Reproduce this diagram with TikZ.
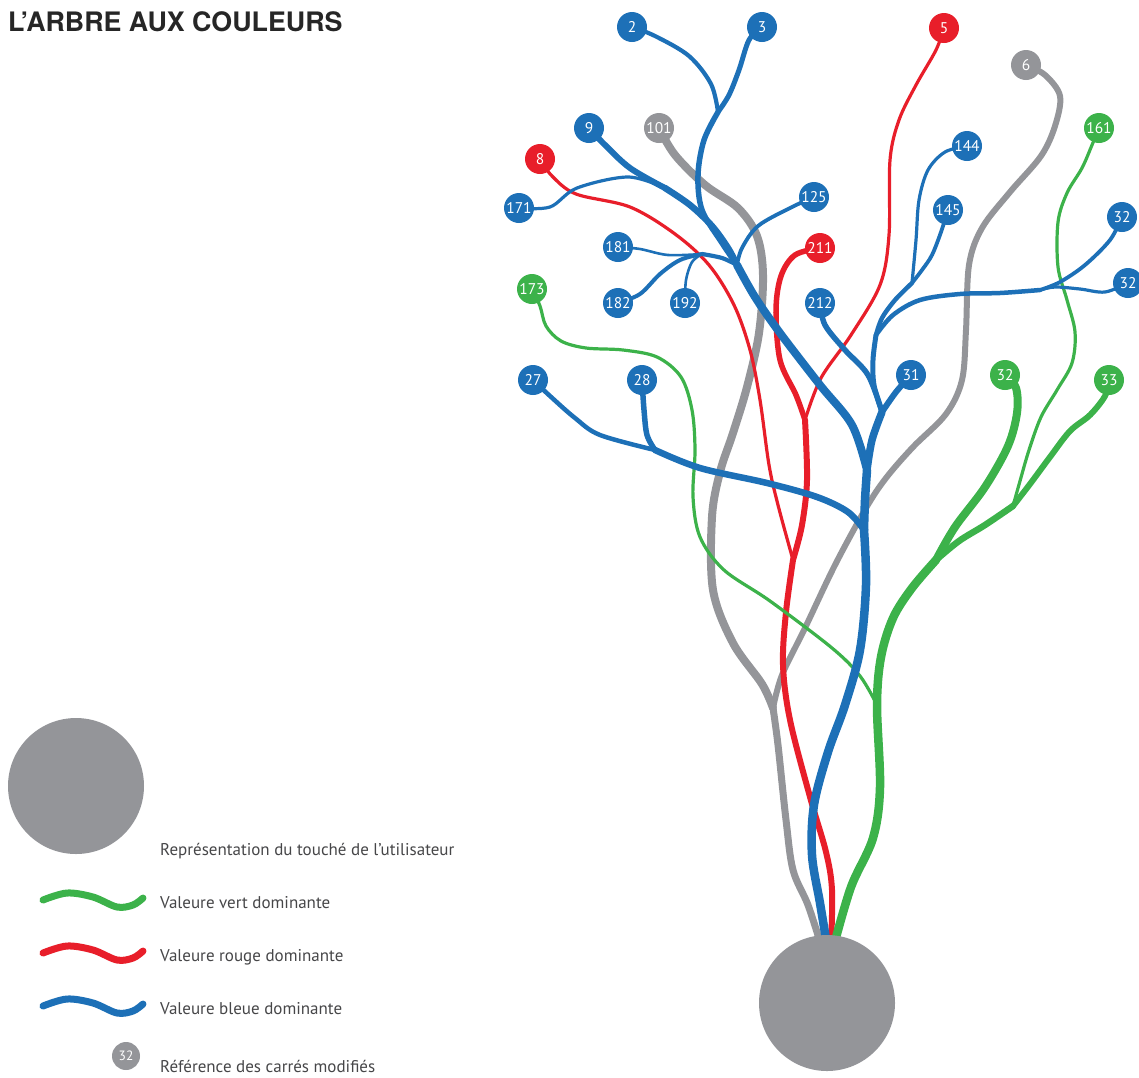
\documentclass[tikz,border=0pt]{standalone}
\usepackage{fontspec}
\setmainfont{PT Sans}
\newfontfamily\titlefont{TeX Gyre Heros}
\usetikzlibrary{backgrounds}
\definecolor{cblue}{RGB}{29,112,183}
\definecolor{cred}{RGB}{232,30,42}
\definecolor{cgreen}{RGB}{60,178,74}
\definecolor{cgray}{RGB}{148,149,153}
\definecolor{ctext}{RGB}{70,70,72}
\begin{document}
\begin{tikzpicture}[x=1pt,y=-1pt,
  leaf/.style={circle, minimum size=30pt, inner sep=0pt, text=white, font=\fontsize{15.5}{16}\selectfont},
  bl/.style={leaf, fill=cblue}, rd/.style={leaf, fill=cred},
  gr/.style={leaf, fill=cgreen}, gy/.style={leaf, fill=cgray},
  strand/.style={line cap=round, line join=round},
  sb/.style={strand, draw=cblue, line width=#1},
  sr/.style={strand, draw=cred, line width=#1},
  sg/.style={strand, draw=cgreen, line width=#1},
  sy/.style={strand, draw=cgray, line width=#1},
  legtext/.style={anchor=base west, inner sep=0pt, text=ctext, font=\fontsize{17}{19}\selectfont},
  sm/.style={smooth, tension=0.55}]
\useasboundingbox (0,0) rectangle (1139,1077);

% title
\node[anchor=base west, inner sep=0pt, text=black!85, font=\titlefont\bfseries\fontsize{26.8}{27}\selectfont] (title) at (8,31) {L’ARBRE AUX COULEURS};

% big touch circle
\node[circle, fill=cgray, minimum size=136pt, inner sep=0pt] (touch) at (827,1003) {};

% leaf nodes
\node[bl] (n2) at (632,27) {2};
\node[bl] (n3) at (762,27) {3};
\node[rd] (n5) at (944,28) {5};
\node[gy] (n6) at (1026,65) {6};
\node[gr] (n161) at (1099,128) {161};
\node[bl] (n9) at (589,128) {9};
\node[gy] (n101) at (659,128) {101};
\node[rd] (n8) at (540,159) {8};
\node[bl] (n171) at (519,208) {171};
\node[bl] (n125) at (814,197) {125};
\node[bl] (n144) at (967,146) {144};
\node[bl] (n145) at (948,210) {145};
\node[bl] (n32a) at (1122,217) {32};
\node[bl] (n32b) at (1128,283) {32};
\node[bl] (n181) at (618,247) {181};
\node[rd] (n211) at (820,248) {211};
\node[bl] (n182) at (618,303) {182};
\node[bl] (n192) at (685,303) {192};
\node[gr] (n173) at (532,289) {173};
\node[bl] (n212) at (820,303) {212};
\node[bl] (n27) at (533,380) {27};
\node[bl] (n28) at (642,380) {28};
\node[bl] (n31) at (911,375) {31};
\node[gr] (n32g) at (1005,375) {32};
\node[gr] (n33) at (1109,380) {33};

% junctions
\coordinate (mB23) at (718,112);
\coordinate (m171) at (665,188);
\coordinate (m18) at (702,254);
\coordinate (mBL) at (737,265);
\coordinate (m1445) at (912,283);
\coordinate (m3232) at (1040,290);
\coordinate (mRup) at (876,335);
\coordinate (mBR) at (882,412);
\coordinate (mT1) at (867,470);
\coordinate (m2728) at (655,450);
\coordinate (mT2) at (864,530);
\coordinate (mR5) at (805,420);
\coordinate (mR8) at (793,560);
\coordinate (mG) at (773,708);
\coordinate (m161) at (1013,506);
\coordinate (m3233) at (936,560);
\coordinate (m173) at (877,705);
\coordinate (bGray) at (821,945);
\coordinate (bBlue) at (827,945);
\coordinate (bRed) at (831,945);
\coordinate (bGreen) at (834,945);

\begin{pgfonlayer}{background}
% gray
\draw[sy=8] plot[sm] coordinates {(n101.center) (675,155) (705,185) (738,208) (757,236) (763,275) (759,333) (747,387) (733,433) (720,472) (712,517) (713,590) (733,643) (762,684) (mG)};
\draw[sy=6] plot[sm] coordinates {(n6.center) (1045,75) (1060,96) (1055,126) (1041,156) (1010,192) (982,228) (969,265) (966,330) (962,380) (946,414) (913,447) (886,478) (866,508) (835,565) (805,628) (782,675) (mG)};
\draw[sy=7] plot[sm] coordinates {(mG) (778,745) (786,820) (793,870) (808,905) (bGray)};
% red
\draw[sr=3.2] plot[sm] coordinates {(n5.center) (936,50) (916,85) (899,120) (890,160) (889,235) (880,285) (851,335) (821,378) (mR5)};
\draw[sr=5.5] plot[sm] coordinates {(n211.center) (795,255) (781,276) (776,310) (780,360) (796,395) (mR5)};
\draw[sr=6] plot[sm] coordinates {(mR5) (807,480) (802,525) (mR8)};
\draw[sr=3.2] plot[sm] coordinates {(n8.center) (552,176) (576,194) (630,207) (675,234) (709,265) (734,305) (750,350) (760,400) (769,465) (778,505) (mR8)};
\draw[sr=6] plot[sm] coordinates {(mR8) (786,612) (783,665) (790,720) (810,797) (826,852) (832,890) (bRed)};
% green
\draw[sg=3.2] plot[sm] coordinates {(n173.center) (540,306) (546,326) (561,341) (586,348) (623,350) (657,357) (681,377) (692,410) (695,450) (693,497) (700,537) (724,570) (770,601) (832,648) (860,676) (m173)};
\draw[sg=3.2] plot[sm] coordinates {(n161.center) (1092,145) (1082,168) (1067,193) (1058,222) (1058,267) (1067,300) (1075,332) (1072,363) (1057,390) (1041,417) (1029,450) (1020,481) (m161)};
\draw[sg=6] plot[sm] coordinates {(n33.center) (1105,396) (1090,415) (1070,431) (1050,457) (1030,484) (m161)};
\draw[sg=6.5] plot[sm] coordinates {(m161) (985,525) (959,541) (m3233)};
\draw[sg=8] plot[sm] coordinates {(n32g.center) (1016,388) (1017,413) (1008,446) (985,487) (955,527) (m3233)};
\draw[sg=8.5] plot[sm] coordinates {(m3233) (912,588) (893,618) (881,657) (m173) (880,787) (873,838) (851,887) (bGreen)};
% blue, left cluster
\draw[sb=4.2] plot[sm] coordinates {(n2.center) (655,36) (689,56) (711,84) (mB23)};
\draw[sb=5] plot[sm] coordinates {(n3.center) (749,40) (739,70) (729,95) (mB23)};
\draw[sb=5.5] plot[sm] coordinates {(mB23) (704,140) (698,175) (702,210) (722,243) (mBL)};
\draw[sb=6] plot[sm] coordinates {(n9.center) (604,144) (630,168) (m171)};
\draw[sb=3.2] plot[sm] coordinates {(n171.center) (550,207) (577,188) (628,177) (m171)};
\draw[sb=6.5] plot[sm] coordinates {(m171) (690,205) (712,226) (728,248) (mBL)};
\draw[sb=2.6] plot[sm] coordinates {(n181.center) (640,249) (668,255) (m18)};
\draw[sb=4] plot[sm] coordinates {(n182.center) (640,294) (660,274) (680,260) (m18)};
\draw[sb=2.6] plot[sm] coordinates {(n192.center) (686,280) (692,262) (m18)};
\draw[sb=4.2] plot[sm] coordinates {(m18) (722,258) (mBL)};
\draw[sb=3.8] plot[sm] coordinates {(n125.center) (790,208) (758,226) (742,248) (mBL)};
\draw[sb=8] plot[sm] coordinates {(mBL) (755,297) (780,333) (820,385) (852,425) (mT1)};
% blue, right cluster
\draw[sb=3.2] plot[sm] coordinates {(n144.center) (945,152) (928,170) (919,200) (916,240) (m1445)};
\draw[sb=3.8] plot[sm] coordinates {(n145.center) (941,232) (932,255) (922,270) (m1445)};
\draw[sb=4.5] plot[sm] coordinates {(m1445) (895,300) (882,318) (mRup)};
\draw[sb=3.8] plot[sm] coordinates {(n32a.center) (1110,240) (1085,265) (1060,282) (m3232)};
\draw[sb=3.2] plot[sm] coordinates {(n32b.center) (1105,292) (1080,289) (1055,287) (m3232)};
\draw[sb=4.5] plot[sm] coordinates {(m3232) (1000,293) (960,294) (920,300) (893,315) (mRup)};
\draw[sb=5] plot[sm] coordinates {(mRup) (873,360) (874,385) (mBR)};
\draw[sb=5.5] plot[sm] coordinates {(n212.center) (825,325) (845,350) (868,375) (mBR)};
\draw[sb=6] plot[sm] coordinates {(n31.center) (896,392) (mBR)};
\draw[sb=7.5] plot[sm] coordinates {(mBR) (872,440) (mT1)};
% blue, trunk
\draw[sb=8.5] plot[sm] coordinates {(mT1) (865,500) (mT2)};
\draw[sb=4.5] plot[sm] coordinates {(n27.center) (550,396) (575,418) (600,435) (m2728)};
\draw[sb=5.5] plot[sm] coordinates {(n28.center) (644,410) (647,435) (m2728)};
\draw[sb=6.5] plot[sm] coordinates {(m2728) (700,468) (767,483) (817,497) (848,512) (mT2)};
\draw[sb=8.5] plot[sm] coordinates {(mT2) (866,585) (860,650) (845,705) (828,752) (814,805) (812,855) (820,903) (bBlue)};
\end{pgfonlayer}

% legend
\node[circle, fill=cgray, minimum size=136pt, inner sep=0pt] (legtouch) at (76,786) {};
\node[legtext] (lt1) at (160,855) {Représentation du touché de l’utilisateur};
\coordinate (lgA) at (43,900);
\coordinate (lgB) at (143,898);
\draw[sg=7] plot[sm] coordinates {(lgA) (67,893) (93,897) (117,907) (133,905) (lgB)};
\node[legtext] (lt2) at (160,908) {Valeure vert dominante};
\coordinate (lrA) at (43,953);
\coordinate (lrB) at (143,951);
\draw[sr=7] plot[sm] coordinates {(lrA) (67,946) (93,950) (117,960) (133,958) (lrB)};
\node[legtext] (lt3) at (160,961) {Valeure rouge dominante};
\coordinate (lbA) at (43,1006);
\coordinate (lbB) at (143,1004);
\draw[sb=7] plot[sm] coordinates {(lbA) (67,999) (93,1003) (117,1013) (133,1011) (lbB)};
\node[legtext] (lt4) at (160,1014) {Valeure bleue dominante};
\node[circle, fill=cgray, minimum size=28pt, inner sep=0pt, text=white, font=\fontsize{13.5}{14}\selectfont] (lref) at (126,1056) {32};
\node[legtext] (lt5) at (160,1072) {Référence des carrés modifiés};
\end{tikzpicture}
\end{document}
